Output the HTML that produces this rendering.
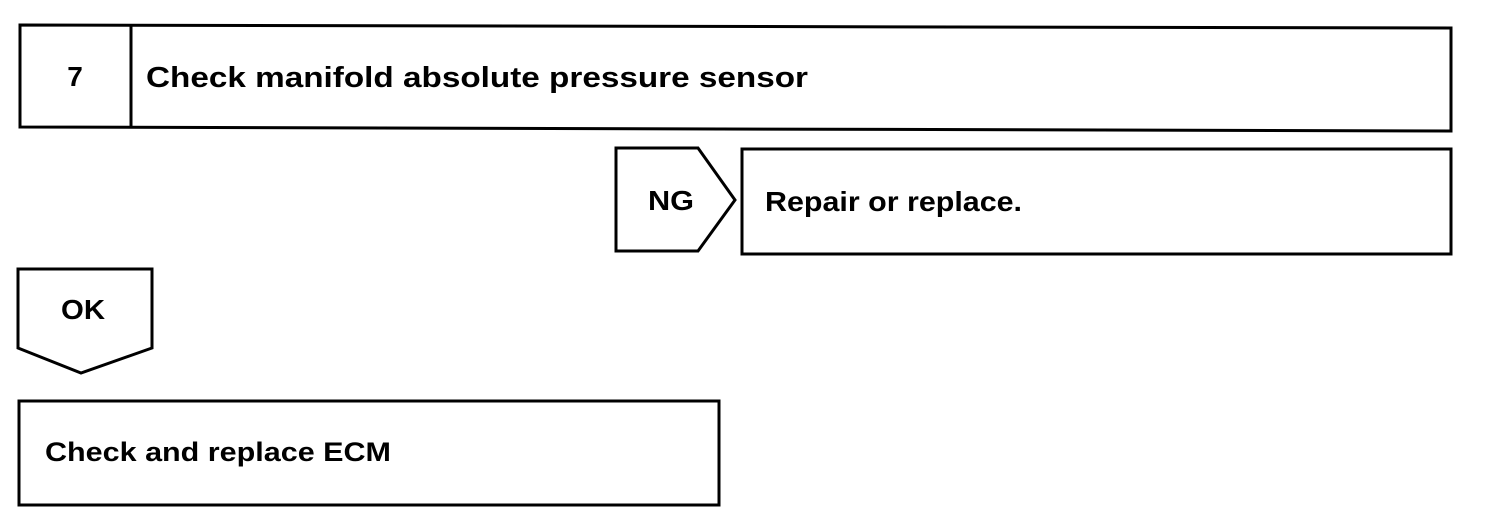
<!DOCTYPE html>
<html><head><meta charset="utf-8"><style>
html,body{margin:0;padding:0;background:#fff;width:1504px;height:526px;overflow:hidden}
text{font-family:"Liberation Sans",Arial,sans-serif;font-weight:bold;fill:#000}
</style></head><body>
<svg width="1504" height="526" viewBox="0 0 1504 526" xmlns="http://www.w3.org/2000/svg">
<g fill="none" stroke="#000" stroke-width="3">
<polygon points="20,25 1451,28 1451,131 20,127"/>
<line x1="131" y1="25" x2="131" y2="128"/>
<polygon points="616,148 698,148 735,200 698,251 616,251"/>
<rect x="742" y="149" width="709" height="105"/>
<polygon points="18,269 152,269 152,348 81,373 18,348"/>
<rect x="19" y="401" width="700" height="104"/>
</g>
<text x="75" y="86" font-size="28" text-anchor="middle">7</text>
<text x="146" y="87" font-size="29" textLength="662" lengthAdjust="spacingAndGlyphs">Check manifold absolute pressure sensor</text>
<text x="648" y="210" font-size="28" textLength="46" lengthAdjust="spacingAndGlyphs">NG</text>
<text x="765" y="211" font-size="28" textLength="257" lengthAdjust="spacingAndGlyphs">Repair or replace.</text>
<text x="61" y="319" font-size="28" textLength="44" lengthAdjust="spacingAndGlyphs">OK</text>
<text x="45" y="461" font-size="27" textLength="346" lengthAdjust="spacingAndGlyphs">Check and replace ECM</text>
</svg>
</body></html>
